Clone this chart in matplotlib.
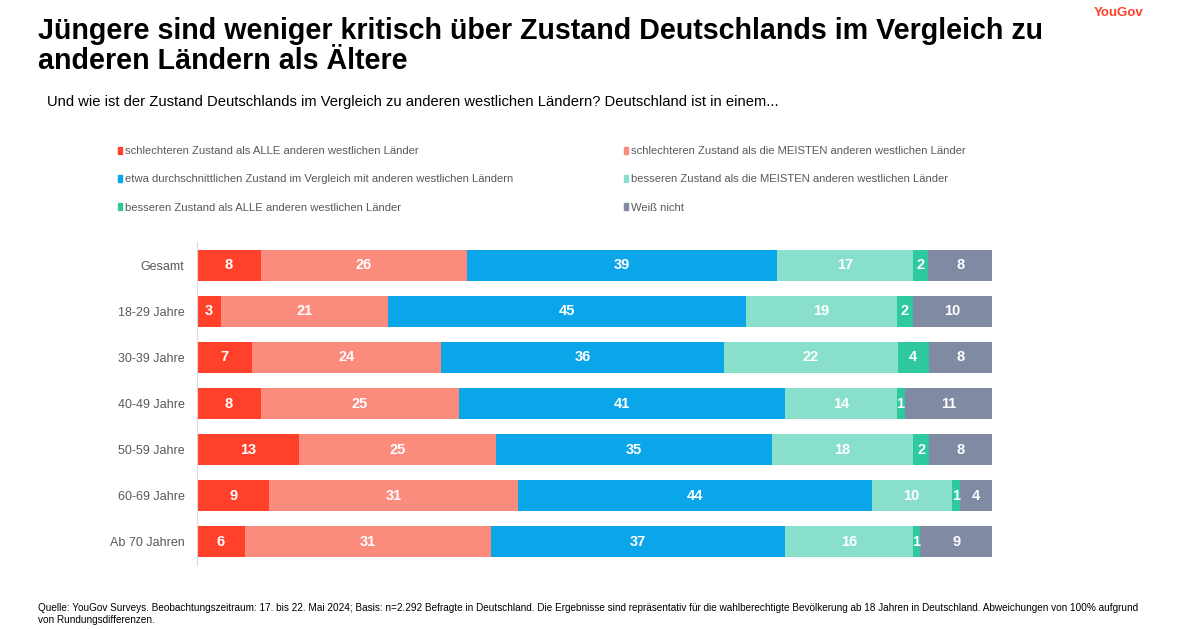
import numpy as np
import matplotlib.pyplot as plt
from matplotlib.patches import Patch

plt.rcParams['font.family'] = ['Liberation Sans', 'DejaVu Sans']

groups = ["Gesamt", "18-29 Jahre", "30-39 Jahre", "40-49 Jahre",
          "50-59 Jahre", "60-69 Jahre", "Ab 70 Jahren"]

series_names = [
    "schlechteren Zustand als ALLE anderen westlichen Länder",
    "schlechteren Zustand als die MEISTEN anderen westlichen Länder",
    "etwa durchschnittlichen Zustand im Vergleich mit anderen westlichen Ländern",
    "besseren Zustand als die MEISTEN anderen westlichen Länder",
    "besseren Zustand als ALLE anderen westlichen Länder",
    "Weiß nicht",
]

alle_schlechter = [8, 3, 7, 8, 13, 9, 6]
meisten_schlechter = [26, 21, 24, 25, 25, 31, 31]
durchschnitt = [39, 45, 36, 41, 35, 44, 37]
meisten_besser = [17, 19, 22, 14, 18, 10, 16]
alle_besser = [2, 2, 4, 1, 2, 1, 1]
weiss_nicht = [8, 10, 8, 11, 8, 4, 9]

colors = ["#FF412C", "#FB8B7C", "#0AA6E9", "#88E0CC", "#2EC99E", "#808AA3"]

data = np.array([alle_schlechter, meisten_schlechter, durchschnitt,
                 meisten_besser, alle_besser, weiss_nicht], dtype=float)
# bars are shown as full 100% width
shares = data / data.sum(axis=0) * 100

fig = plt.figure(figsize=(11.98, 6.29), dpi=100)
ax = fig.add_axes([197 / 1198, 1 - 565 / 629, 795 / 1198, 323 / 629])

y = np.arange(len(groups))
left = np.zeros(len(groups))
for i in range(len(series_names)):
    bars = ax.barh(y, shares[i], left=left, height=0.67, color=colors[i],
                   label=series_names[i])
    ax.bar_label(bars, labels=[f"{v:.0f}" for v in data[i]], label_type='center',
                 color='white', fontweight='bold', fontsize=10.5)
    left += shares[i]

ax.set_xlim(0, 100)
ax.set_ylim(6.5, -0.5)
ax.set_yticks(y)
ax.set_yticklabels(groups, fontsize=9, color='#595959')
ax.tick_params(axis='y', length=0, pad=9)
ax.set_xticks([])
for s in ['top', 'right', 'bottom']:
    ax.spines[s].set_visible(False)
ax.spines['left'].set_color('#D9D9D9')

# legend, row-wise order in two columns
handles = [Patch(color=c) for c in colors]
order = [0, 2, 4, 1, 3, 5]
fig.legend([handles[k] for k in order], [series_names[k] for k in order],
           ncol=2, loc='upper left', bbox_to_anchor=(108 / 1198, 1 - 136 / 629),
           frameon=False, fontsize=8.1, labelcolor='#595959',
           handlelength=0.35, handleheight=0.6, handletextpad=0.3,
           columnspacing=9.8, labelspacing=1.62)

fig.text(38 / 1198, 1 - 46 / 629,
         "Jüngere sind weniger kritisch über Zustand Deutschlands im Vergleich zu\nanderen Ländern als Ältere",
         fontsize=20.65, fontweight='bold', va='center', linespacing=1.05)
fig.text(47 / 1198, 1 - 102 / 629,
         "Und wie ist der Zustand Deutschlands im Vergleich zu anderen westlichen Ländern? Deutschland ist in einem...",
         fontsize=10.65, va='center')
fig.text(1143 / 1198, 1 - 13 / 629, "YouGov", color='#FF412C',
         fontsize=9.5, fontweight='bold', ha='right', va='center')
fig.text(38 / 1198, 1 - 614 / 629,
         "Quelle: YouGov Surveys. Beobachtungszeitraum: 17. bis 22. Mai 2024; Basis: n=2.292 Befragte in Deutschland. "
         "Die Ergebnisse sind repräsentativ für die wahlberechtigte Bevölkerung ab 18 Jahren in Deutschland. "
         "Abweichungen von 100% aufgrund\nvon Rundungsdifferenzen.",
         fontsize=7.2, va='center', family=['Liberation Sans Narrow', 'Liberation Sans'],
         linespacing=1.15)

fig.savefig("out.png", dpi=100)
